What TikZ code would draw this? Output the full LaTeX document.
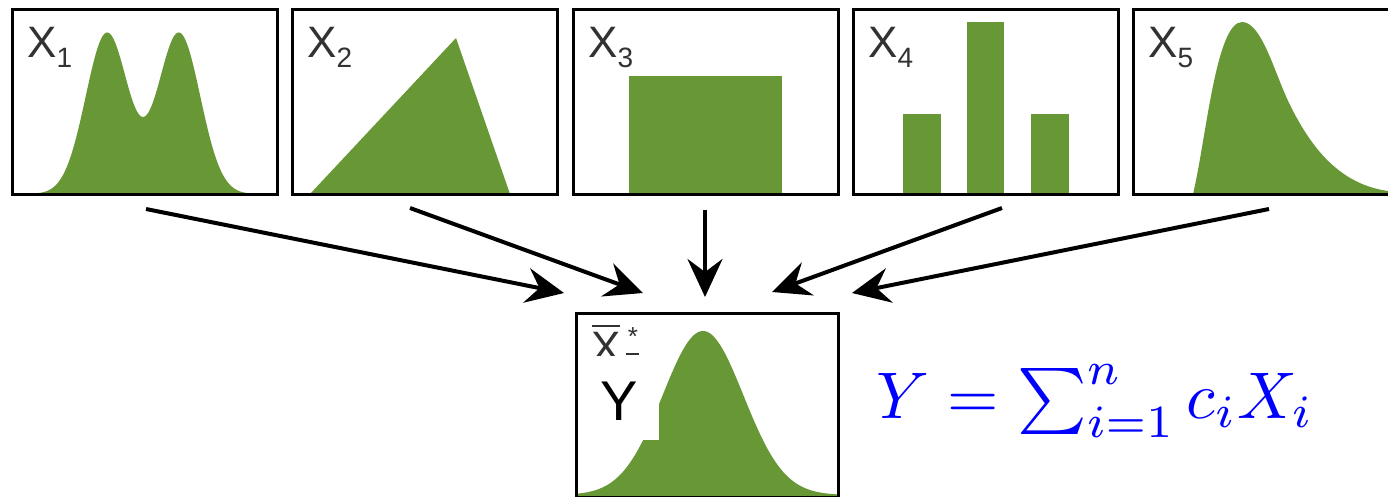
\documentclass[tikz,border=0pt]{standalone}
\usepackage{graphicx}
\usepackage{fontspec}
\newfontfamily\labfont{Liberation Sans}
\usetikzlibrary{arrows.meta}
\definecolor{grn}{RGB}{103,152,53}
\definecolor{labgray}{RGB}{50,50,50}
\begin{document}
\begin{tikzpicture}[x=1pt,y=-1pt,
  box/.style={draw=black,line width=3pt,minimum width=265pt,minimum height=184pt,inner sep=0pt,outer sep=0pt},
  dist/.style={fill=grn},
  lab/.style={text=labgray,font=\labfont\fontsize{44}{44}\selectfont,inner sep=0pt,anchor=base west},
  conn/.style={line width=4pt,-{Stealth[length=38pt,width=35pt,inset=13pt]}},
]
\useasboundingbox (0,0) rectangle (1388,497);
\clip (0,0) rectangle (1388,497);
\fill[white] (0,0) rectangle (1388,497);
% distributions
\fill[dist] (30,195) -- plot[domain=30:260,samples=160] (\x,{194-161*(exp(0-((\x-107)/10)^2/9.06)+exp(0-((\x-179)/10)^2/9.06))}) -- (260,195) -- cycle;
\fill[dist] (310,194) -- (456,38) -- (510,194) -- cycle;
\fill[dist] (629,76) rectangle (782,194);
\fill[dist] (903,114) rectangle (941,194);
\fill[dist] (967,22) rectangle (1004,194);
\fill[dist] (1031,114) rectangle (1069,194);
\fill[dist] (1193,194) .. controls (1206,140) and (1216,22) .. (1242,22)
  .. controls (1262,22) and (1275,75) .. (1290,105)
  .. controls (1310,145) and (1340,190) .. (1400,192) -- (1400,194) -- cycle;
\fill[dist] (576,497) -- plot[domain=576:838,samples=140] (\x,{495-164*exp(0-((\x-703)/10)^2/32.8)}) -- (838,497) -- cycle;
% boxes
\node[box] (b1) at (144.5,102) {};
\node[box] (b2) at (424.5,102) {};
\node[box] (b3) at (705.5,102) {};
\node[box] (b4) at (985.5,102) {};
\node[box] (b5) at (1265.5,102) {};
\node[box,minimum width=262pt] (by) at (707,405) {};
% labels
\node[lab] (l1) at (27,58) {X\raisebox{-10pt}{\fontsize{28}{28}\selectfont 1}};
\node[lab] (l2) at (307,58) {X\raisebox{-10pt}{\fontsize{28}{28}\selectfont 2}};
\node[lab] (l3) at (588,58) {X\raisebox{-10pt}{\fontsize{28}{28}\selectfont 3}};
\node[lab] (l4) at (868,58) {X\raisebox{-10pt}{\fontsize{28}{28}\selectfont 4}};
\node[lab] (l5) at (1148,58) {X\raisebox{-10pt}{\fontsize{28}{28}\selectfont 5}};
\node[lab] (lx) at (591,362) {X};
\draw[labgray,line width=2pt] (592,326) -- (620,326);
\node[text=labgray,font=\labfont\fontsize{26}{26}\selectfont,inner sep=0pt] (lstar) at (633,337) {*};
\draw[labgray,line width=2.5pt] (626,354) -- (639,354);
\fill[white] (579,356) rectangle (659,440);
\node[font=\labfont\fontsize{56}{56}\selectfont,anchor=base west,inner sep=0pt] (ly) at (600,420) {Y};
% formula
\node[text=blue,anchor=base west,inner sep=0pt] (f) at (876,418) {\scalebox{6.6}{$Y = \sum_{i=1}^{n} c_i X_i$}};
% arrows
\coordinate (s1) at (146,209); \coordinate (t1) at (564,293);
\coordinate (s2) at (410,208); \coordinate (t2) at (643,293);
\coordinate (s3) at (705,210); \coordinate (t3) at (705,297);
\coordinate (s4) at (1002,208); \coordinate (t4) at (772,292);
\coordinate (s5) at (1269,209); \coordinate (t5) at (852,293);
\draw[conn] (s1) -- (t1);
\draw[conn] (s2) -- (t2);
\draw[conn] (s3) -- (t3);
\draw[conn] (s4) -- (t4);
\draw[conn] (s5) -- (t5);
\end{tikzpicture}
\end{document}
